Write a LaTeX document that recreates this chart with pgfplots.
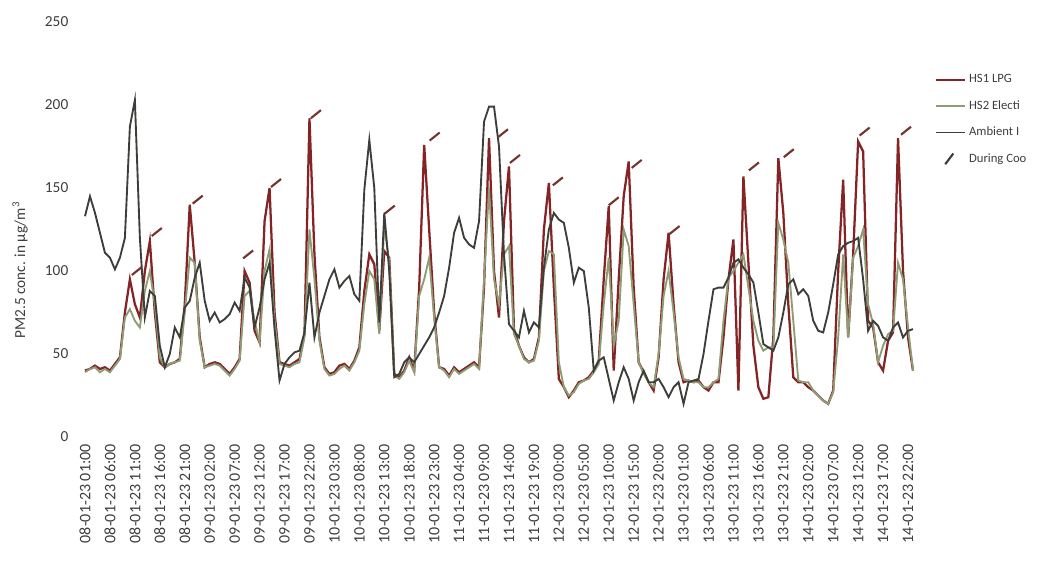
\documentclass[border=0pt]{standalone}
\usepackage{pgfplots}
\usepackage{pgfplotstable}
\pgfplotsset{compat=1.18}
\usepackage{fontspec}
\setmainfont{Carlito}

\definecolor{lpg}{RGB}{132,36,38}
\definecolor{elec}{RGB}{142,156,116}
\definecolor{amb}{RGB}{60,62,58}
\definecolor{txt}{RGB}{62,62,62}
\definecolor{cookc}{RGB}{118,52,46}

% short slanted stroke used for "During Cooking"
\pgfdeclareplotmark{cook}{%
  \pgfpathmoveto{\pgfqpoint{-0.75\pgfplotmarksize}{-0.6\pgfplotmarksize}}%
  \pgfpathlineto{\pgfqpoint{0.75\pgfplotmarksize}{0.6\pgfplotmarksize}}%
  \pgfusepathqstroke}

% hourly PM2.5, hour 0 = 08-01-23 01:00
\pgfplotstableread{
h lpg elec amb
0 40 39 133
1 41 41 145
2 43 42 135
3 41 39 123
4 42 41 111
5 40 39 108
6 44 43 101
7 48 47 108
8 75 72 120
9 95 77 187
10 80 70 203
11 72 66 120
12 100 88 72
13 118 100 88
14 75 80 85
15 45 48 55
16 42 42 42
17 44 44 50
18 45 45 66
19 47 46 60
20 80 75 78
21 140 108 82
22 105 105 96
23 60 58 105
24 42 42 82
25 44 43 70
26 45 44 75
27 44 43 69
28 41 40 71
29 38 37 74
30 42 41 81
31 47 46 76
32 100 85 96
33 93 88 90
34 64 70 66
35 57 57 78
36 130 100 95
37 150 113 105
38 75 70 65
39 45 44 34
40 44 43 44
41 43 42 48
42 45 44 51
43 47 45 52
44 62 60 63
45 192 125 93
46 110 95 60
47 60 58 75
48 42 41 85
49 38 37 95
50 39 38 101
51 43 41 90
52 44 43 94
53 41 40 97
54 46 45 86
55 54 52 82
56 88 80 149
57 110 100 179
58 104 95 150
59 64 62 69
60 112 128 135
61 108 105 100
62 38 37 36
63 36 35 38
64 40 39 45
65 48 46 48
66 40 39 45
67 90 85 50
68 176 95 55
69 125 108 60
70 75 72 66
71 42 42 75
72 41 40 85
73 37 36 102
74 42 41 123
75 39 38 132
76 41 40 120
77 43 42 116
78 45 44 114
79 42 41 130
80 90 95 190
81 180 150 199
82 100 95 199
83 72 80 175
84 130 110 110
85 163 115 68
86 65 62 64
87 55 55 60
88 48 47 76
89 45 45 63
90 47 46 69
91 60 58 66
92 125 100 102
93 153 112 125
94 90 110 135
95 35 45 131
96 30 30 129
97 24 25 114
98 28 27 93
99 33 32 102
100 34 34 100
101 36 35 78
102 40 39 40
103 46 44 46
104 95 80 48
105 139 108 35
106 40 55 22
107 95 70 33
108 145 125 42
109 166 115 35
110 90 80 22
111 45 45 33
112 39 38 40
113 33 33 33
114 28 30 33
115 48 50 35
116 95 85 30
117 123 100 24
118 80 75 30
119 45 48 33
120 33 35 20
121 34 34 33
122 33 33 34
123 34 33 35
124 30 30 50
125 28 30 70
126 33 33 89
127 33 35 90
128 60 70 90
129 95 96 96
130 119 100 105
131 28 105 107
132 157 110 102
133 105 90 98
134 55 70 93
135 30 58 75
136 23 52 56
137 24 54 54
138 60 54 52
139 168 129 60
140 135 119 75
141 80 105 92
142 36 70 95
143 33 34 86
144 33 33 89
145 30 33 85
146 28 28 70
147 25 25 64
148 22 22 63
149 20 20 75
150 28 27 92
151 100 60 110
152 155 110 115
153 60 60 117
154 110 108 118
155 178 115 120
156 172 125 95
157 70 80 64
158 66 68 70
159 45 45 67
160 40 55 60
161 58 62 58
162 63 64 66
163 180 105 69
164 100 95 60
165 60 66 64
166 40 40 65
}\pm

\pgfplotstableread{
h v
10.4 100
14.4 123.5
22.6 143
32.7 110
38.3 153
46.3 194.5
61.1 137
70.1 181
83.8 183
86.2 167.5
94.8 154
106.0 142
110.6 164.5
118.2 124.7
134.1 163
141.1 171
156.3 184
164.6 184.5
}\cook

\begin{document}
\begin{tikzpicture}
\useasboundingbox (-63.75pt,-96pt) rectangle (715.5pt,327.75pt);
\begin{axis}[
  at={(0,0)}, anchor=south west,
  scale only axis, width=621pt, height=311.25pt,
  xmin=0, xmax=166, ymin=0, ymax=250,
  axis line style={draw=none}, tick style={draw=none},
  clip=false,
  ytick={0,50,...,250},
  xtick={0,5,...,165},
  xticklabels={08-01-23 01:00,08-01-23 06:00,08-01-23 11:00,08-01-23 16:00,
    08-01-23 21:00,09-01-23 02:00,09-01-23 07:00,09-01-23 12:00,
    09-01-23 17:00,09-01-23 22:00,10-01-23 03:00,10-01-23 08:00,
    10-01-23 13:00,10-01-23 18:00,10-01-23 23:00,11-01-23 04:00,
    11-01-23 09:00,11-01-23 14:00,11-01-23 19:00,12-01-23 00:00,
    12-01-23 05:00,12-01-23 10:00,12-01-23 15:00,12-01-23 20:00,
    13-01-23 01:00,13-01-23 06:00,13-01-23 11:00,13-01-23 16:00,
    13-01-23 21:00,14-01-23 02:00,14-01-23 07:00,14-01-23 12:00,
    14-01-23 17:00,14-01-23 22:00},
  /pgf/number format/assume math mode=true,
  xticklabel style={rotate=90, anchor=east, text=txt,
    font=\fontsize{12}{13}\selectfont},
  yticklabel style={text=txt, font=\fontsize{11.5}{12}\selectfont,
    anchor=east, xshift=-9pt},
  xticklabel shift=2pt,
  ylabel={PM2.5 conc. in µg/m\textsuperscript{3}},
  ylabel style={at={(axis description cs:-0.0785,0.402)}, anchor=center,
    text=txt, font=\fontsize{11.5}{12}\selectfont},
  legend style={at={(axis description cs:1.026,0.88)}, anchor=north west,
    draw=none, fill=none, text=txt, font=\fontsize{9.5}{11}\selectfont,
    row sep=7.75pt, inner sep=0pt},
  legend cell align=left,
  legend image code/.code={\draw[#1] (0pt,0pt) -- (22pt,0pt);},
]
\addplot[lpg, line width=1.7pt] table[x=h, y=lpg] {\pm};
\addlegendentry{HS1 LPG}
\addplot[elec, line width=1.4pt] table[x=h, y=elec] {\pm};
\addlegendentry{HS2 Electi}
\addplot[amb, line width=1.4pt] table[x=h, y=amb] {\pm};
\addlegendentry{Ambient I}
\addplot[only marks, mark=cook, mark size=5pt, cookc,
  mark options={line width=1.6pt},
  legend image code/.code={\draw[amb, line width=1.6pt] (7pt,-4pt) -- (13pt,4pt);}]
  table[x=h, y=v] {\cook};
\addlegendentry{During Coo}
\end{axis}
\end{tikzpicture}
\end{document}
